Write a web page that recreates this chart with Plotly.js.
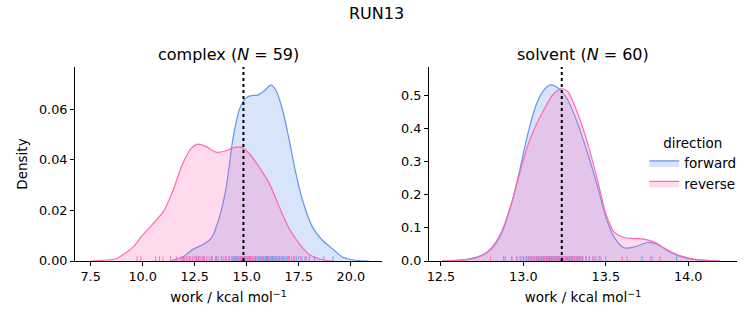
<!DOCTYPE html>
<html>
<head>
<meta charset="utf-8">
<script src="https://cdn.plot.ly/plotly-3.0.1.min.js"></script>
<style>html,body{margin:0;padding:0;background:#fff;}#chart{width:753px;height:325px;}</style>
</head>
<body>
<div id="chart"></div>
<script>
// ---- complex leg: KDE curves ----
const complexFwdX = [11.3, 11.93, 12.41, 12.89, 13.29, 13.69, 14.01, 14.33, 14.65, 14.96, 15.28, 15.5, 15.8, 16.16, 16.4, 16.72, 17.04, 17.36, 17.68, 18.15, 18.63, 19.11, 19.59, 20.23, 20.87];
const complexFwdY = [0.0, 0.0016, 0.0046, 0.0065, 0.0089, 0.0174, 0.029, 0.048, 0.060, 0.0645, 0.0655, 0.0655, 0.067, 0.0695, 0.0675, 0.0597, 0.0478, 0.0346, 0.024, 0.0135, 0.0082, 0.0049, 0.0016, 0.0003, 0.0];
const complexRevX = [7.47, 8.74, 9.0, 9.54, 9.97, 10.98, 11.46, 11.93, 12.33, 12.65, 13.05, 13.53, 14.01, 14.33, 14.72, 15.12, 15.6, 16.08, 16.56, 17.04, 17.52, 18.0, 18.63, 19.1];
const complexRevY = [0.0, 0.0009, 0.0022, 0.0055, 0.0100, 0.0194, 0.028, 0.0386, 0.0445, 0.0462, 0.0452, 0.043, 0.0436, 0.0447, 0.045, 0.0425, 0.037, 0.0307, 0.0214, 0.0128, 0.0069, 0.0026, 0.0005, 0.0];
// ---- solvent leg ----
const solventFwdX = [12.506, 12.667, 12.747, 12.807, 12.867, 12.928, 12.978, 13.028, 13.078, 13.129, 13.169, 13.219, 13.269, 13.329, 13.39, 13.45, 13.5, 13.55, 13.61, 13.671, 13.751, 13.811, 13.871, 13.952, 14.032, 14.193];
const solventFwdY = [0.0, 0.006, 0.017, 0.037, 0.083, 0.174, 0.275, 0.387, 0.473, 0.52, 0.533, 0.52, 0.488, 0.417, 0.326, 0.225, 0.134, 0.073, 0.040, 0.042, 0.056, 0.051, 0.032, 0.014, 0.005, 0.0];
const solventRevX = [12.506, 12.667, 12.747, 12.807, 12.867, 12.928, 12.978, 13.028, 13.078, 13.129, 13.179, 13.229, 13.269, 13.329, 13.39, 13.45, 13.5, 13.55, 13.61, 13.671, 13.731, 13.791, 13.851, 13.912, 13.992, 14.072, 14.193];
const solventRevY = [0.0, 0.005, 0.016, 0.040, 0.088, 0.174, 0.265, 0.351, 0.412, 0.462, 0.503, 0.521, 0.513, 0.447, 0.356, 0.245, 0.144, 0.088, 0.071, 0.068, 0.066, 0.058, 0.040, 0.024, 0.010, 0.003, 0.0];
// ---- rug samples (work values) ----
const complexFwdRug = [11.95, 12.6, 12.9, 13.3, 13.55, 13.8, 14.0, 14.15, 14.3, 14.42, 14.5, 14.6, 14.68, 14.75, 14.82, 14.9, 14.97, 15.05, 15.12, 15.2, 15.27, 15.35, 15.42, 15.5, 15.58, 15.65, 15.72, 15.8, 15.87, 15.93, 16.0, 16.06, 16.12, 16.18, 16.24, 16.3, 16.37, 16.44, 16.5, 16.58, 16.65, 16.72, 16.8, 16.88, 16.96, 17.05, 17.15, 17.25, 17.38, 17.5, 17.65, 17.8, 18.0, 18.25, 18.7, 19.14, 15.15, 15.95, 16.28];
const complexRevRug = [9.73, 9.91, 10.62, 10.81, 10.97, 11.34, 11.62, 11.85, 11.93, 12.02, 12.1, 12.18, 12.25, 12.31, 12.4, 12.47, 12.55, 12.6, 12.68, 12.74, 12.8, 12.9, 12.97, 13.08, 13.2, 13.35, 13.5, 13.63, 13.78, 13.9, 14.02, 14.15, 14.25, 14.36, 14.45, 14.55, 14.62, 14.7, 14.78, 14.86, 14.93, 15.0, 15.08, 15.18, 15.27, 15.38, 15.5, 15.62, 15.75, 15.9, 16.05, 16.2, 16.38, 16.55, 16.75, 17.0, 17.3, 17.6, 17.85];
const solventFwdRug = [12.88, 12.89, 12.93, 12.96, 12.98, 13.0, 13.02, 13.04, 13.05, 13.07, 13.08, 13.09, 13.1, 13.11, 13.12, 13.13, 13.14, 13.15, 13.15, 13.16, 13.17, 13.18, 13.19, 13.2, 13.21, 13.22, 13.23, 13.24, 13.25, 13.26, 13.27, 13.28, 13.29, 13.3, 13.31, 13.32, 13.33, 13.34, 13.36, 13.38, 13.4, 13.43, 13.46, 13.5, 13.72, 13.78, 13.93, 13.06, 13.12, 13.17, 13.21, 13.25, 13.29, 13.14, 13.19, 13.09, 13.03, 13.35, 13.27, 13.16];
const solventRevRug = [12.80, 12.93, 12.96, 12.99, 13.01, 13.03, 13.05, 13.06, 13.08, 13.09, 13.1, 13.11, 13.12, 13.13, 13.14, 13.15, 13.16, 13.17, 13.18, 13.19, 13.2, 13.21, 13.22, 13.23, 13.23, 13.24, 13.25, 13.26, 13.27, 13.28, 13.29, 13.3, 13.31, 13.32, 13.33, 13.34, 13.35, 13.36, 13.38, 13.4, 13.42, 13.44, 13.47, 13.6, 13.63, 13.77, 13.83, 13.07, 13.13, 13.18, 13.22, 13.26, 13.3, 13.24, 13.2, 13.15, 13.11, 13.28, 13.33, 13.04];
// ---- reference lines and labels ----
const complexMean = 14.84;
const solventMean = 13.233;
const complexN = 59;
const solventN = 60;
const complexXTicks = [7.5, 10.0, 12.5, 15.0, 17.5, 20.0];
const complexYTicks = [0, 0.02, 0.04, 0.06];
const solventXTicks = [12.5, 13.0, 13.5, 14.0];
const solventYTicks = [0, 0.1, 0.2, 0.3, 0.4, 0.5];

const FWD = '#6495ED', REV = '#FF69B4';
const FWD_FILL = 'rgba(100,149,237,0.25)', REV_FILL = 'rgba(255,105,180,0.25)';
const FONT = 'DejaVu Sans, Liberation Sans, sans-serif';
const cYR = [0, 0.0767], sYR = [0, 0.587];

function rug(vals, top, color, xa, ya) {
  const x = [], y = [];
  vals.forEach(v => { x.push(v, v, null); y.push(0, top, null); });
  return {x, y, xaxis: xa, yaxis: ya, type: 'scatter', mode: 'lines', hoverinfo: 'skip',
          line: {color, width: 1}, showlegend: false};
}
function kde(x, y, color, fill, xa, ya, name, show) {
  return {x, y, xaxis: xa, yaxis: ya, type: 'scatter', mode: 'lines', name,
          line: {color, width: 1.2, shape: 'spline', smoothing: 0.8}, fill: 'tozeroy', fillcolor: fill,
          showlegend: show, legendgroup: name};
}

const data = [
  kde(complexFwdX, complexFwdY, FWD, FWD_FILL, 'x', 'y', 'forward', true),
  kde(complexRevX, complexRevY, REV, REV_FILL, 'x', 'y', 'reverse', true),
  kde(solventFwdX, solventFwdY, FWD, FWD_FILL, 'x2', 'y2', 'forward', false),
  kde(solventRevX, solventRevY, REV, REV_FILL, 'x2', 'y2', 'reverse', false),
  rug(complexFwdRug, cYR[1]*0.025, 'rgba(100,149,237,0.85)', 'x', 'y'),
  rug(complexRevRug, cYR[1]*0.025, 'rgba(255,105,180,0.85)', 'x', 'y'),
  rug(solventFwdRug, sYR[1]*0.025, 'rgba(100,149,237,0.85)', 'x2', 'y2'),
  rug(solventRevRug, sYR[1]*0.025, 'rgba(255,105,180,0.85)', 'x2', 'y2')
];

const axBase = {showgrid: false, zeroline: false, showline: true, linecolor: '#000', linewidth: 1,
  ticks: 'outside', ticklen: 4, tickwidth: 1, tickcolor: '#000', tickmode: 'array',
  tickfont: {family: FONT, size: 12.8, color: '#000'}};
const xTitle = {text: 'work / kcal mol<sup>−1</sup>', font: {family: FONT, size: 13.5, color: '#000'}, standoff: 9};

const layout = {
  width: 753, height: 325,
  margin: {l: 75, r: 14, t: 67, b: 64},
  paper_bgcolor: '#fff', plot_bgcolor: '#fff',
  font: {family: FONT, color: '#000'},
  title: {text: 'RUN13', x: 0.5, xref: 'container', y: 0.96, yref: 'container', yanchor: 'middle',
          font: {family: FONT, size: 16, color: '#000'}},
  xaxis: Object.assign({}, axBase, {domain: [0, 0.4639], range: [6.75, 21.5], anchor: 'y',
          tickvals: complexXTicks, tickformat: '.1f', title: xTitle}),
  yaxis: Object.assign({}, axBase, {range: cYR, anchor: 'x', tickvals: complexYTicks, tickformat: '.2f',
          title: {text: 'Density', font: {family: FONT, size: 13.5, color: '#000'}, standoff: 8}}),
  xaxis2: Object.assign({}, axBase, {domain: [0.5346, 1], range: [12.427, 14.296], anchor: 'y2',
          tickvals: solventXTicks, tickformat: '.1f', title: xTitle}),
  yaxis2: Object.assign({}, axBase, {range: sYR, anchor: 'x2', tickvals: solventYTicks, tickformat: '.1f'}),
  shapes: [
    {type: 'line', xref: 'x', yref: 'y domain', x0: complexMean, x1: complexMean, y0: 0, y1: 1,
     line: {color: '#000', width: 2, dash: 'dot'}},
    {type: 'line', xref: 'x2', yref: 'y2 domain', x0: solventMean, x1: solventMean, y0: 0, y1: 1,
     line: {color: '#000', width: 2, dash: 'dot'}}
  ],
  annotations: [
    {text: 'complex (<i>N</i> = ' + complexN + ')', xref: 'paper', yref: 'paper', x: 0.232, y: 1.067,
     xanchor: 'center', yanchor: 'middle', showarrow: false, font: {family: FONT, size: 16, color: '#000'}},
    {text: 'solvent (<i>N</i> = ' + solventN + ')', xref: 'paper', yref: 'paper', x: 0.767, y: 1.067,
     xanchor: 'center', yanchor: 'middle', showarrow: false, font: {family: FONT, size: 16, color: '#000'}}
  ],
  legend: {x: 0.86, y: 0.675, xref: 'paper', yref: 'paper', xanchor: 'left', yanchor: 'top',
    bgcolor: 'rgba(0,0,0,0)', font: {family: FONT, size: 13.5, color: '#000'},
    title: {text: 'direction', side: 'top center', font: {family: FONT, size: 13.5, color: '#000'}},
    tracegroupgap: 0, itemwidth: 30},
  hovermode: false
};

Plotly.newPlot('chart', data, layout, {displayModeBar: false, staticPlot: true});
</script>
</body>
</html>
